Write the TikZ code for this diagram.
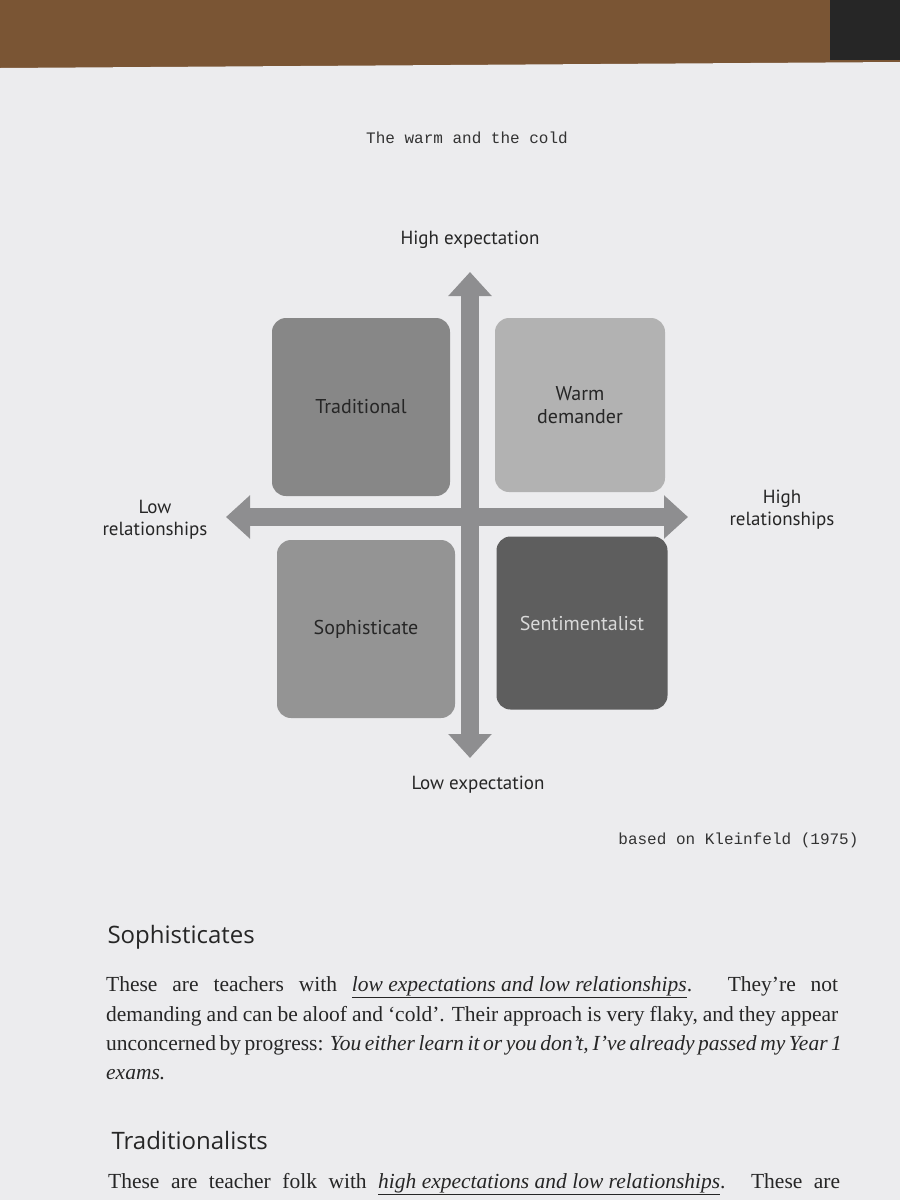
\documentclass[tikz,border=0pt]{standalone}
\usepackage{fontspec}
\setmainfont{Liberation Serif}
\newfontfamily\lab{PT Sans}
\newfontfamily\mono{Liberation Mono}
\newfontfamily\head{Open Sans}
\usetikzlibrary{arrows.meta}
\definecolor{page}{HTML}{ECECEE}
\definecolor{wood}{HTML}{7A5534}
\definecolor{arr}{HTML}{8E8E90}
\tikzset{
 quad/.style={rounded corners=14pt, minimum width=178pt, minimum height=178pt, inner sep=0pt, font=\lab\fontsize{20}{23}\selectfont, align=center, text=black!85},
 axis/.style={draw=arr, line width=18pt, arrows={-{Triangle[width=42pt,length=24pt]}}},
 axlab/.style={font=\lab\fontsize{19}{22}\selectfont, align=center, text=black!85},
 body/.style={anchor=west, font=\fontsize{21.5}{23}\selectfont, text=black!85, inner sep=0pt}
}
\newcommand\fl[1]{\makebox[732pt][s]{#1}}
\begin{document}
\begin{tikzpicture}[x=1pt,y=-1pt]
\useasboundingbox (0,0) rectangle (900,1200);
\fill[wood] (0,0) rectangle (900,80);
\fill[black!85] (830,0) rectangle (900,60);
\fill[page] (0,68) -- (900,62) -- (900,1200) -- (0,1200) -- cycle;
\node[font=\mono\fontsize{16}{18}\selectfont, text=black!80] (hdr) at (467,138) {The warm and the cold};
\node[quad, fill=black!47] (trad) at (361,407) {Traditional};
\node[quad, fill=black!30, minimum width=170pt, minimum height=174pt] (warm) at (580,405) {Warm\\demander};
\node[quad, fill=black!42] (soph) at (366,629) {Sophisticate};
\node[quad, fill=black!63, text=white!85!black, minimum width=171pt, minimum height=173pt] (sent) at (582,623) {Sentimentalist};
\coordinate (c) at (470,517);
\coordinate (top) at (470,272);
\coordinate (bot) at (470,758);
\coordinate (lft) at (226,517);
\coordinate (rgt) at (688,517);
\draw[axis] (c) -- (top);
\draw[axis] (c) -- (bot);
\draw[axis] (c) -- (lft);
\draw[axis] (c) -- (rgt);
\node[axlab] (he) at (470,240) {High expectation};
\node[axlab] (le) at (478,785) {Low expectation};
\node[axlab] (lr) at (155,520) {Low\\relationships};
\node[axlab] (hr) at (782,510) {High\\relationships};
\node[font=\mono\fontsize{16}{18}\selectfont, text=black!80, anchor=east] (kl) at (862,840) {based on Kleinfeld (1975)};
\node[font=\head\fontsize{24}{26}\selectfont, anchor=west, text=black!85] (h1) at (104,937) {Sophisticates};
\node[body] (l1) at (106,987) {\fl{These are teachers with \textit{\underline{low expectations and low relationships}}. They're not}};
\node[body] (l2) at (106,1016) {\fl{demanding and can be aloof and `cold'. Their approach is very flaky, and they appear}};
\node[body] (l3) at (106,1045) {\fl{unconcerned by progress: \textit{You either learn it or you don't, I've already passed my Year 1}}};
\node[body] (l4) at (106,1075) {\textit{exams.}};
\node[font=\head\fontsize{24}{26}\selectfont, anchor=west, text=black!85] (h2) at (108,1140) {Traditionalists};
\node[body] (l5) at (108,1184) {\fl{These are teacher folk with \textit{\underline{high expectations and low relationships}}. These are}};
\end{tikzpicture}
\end{document}
